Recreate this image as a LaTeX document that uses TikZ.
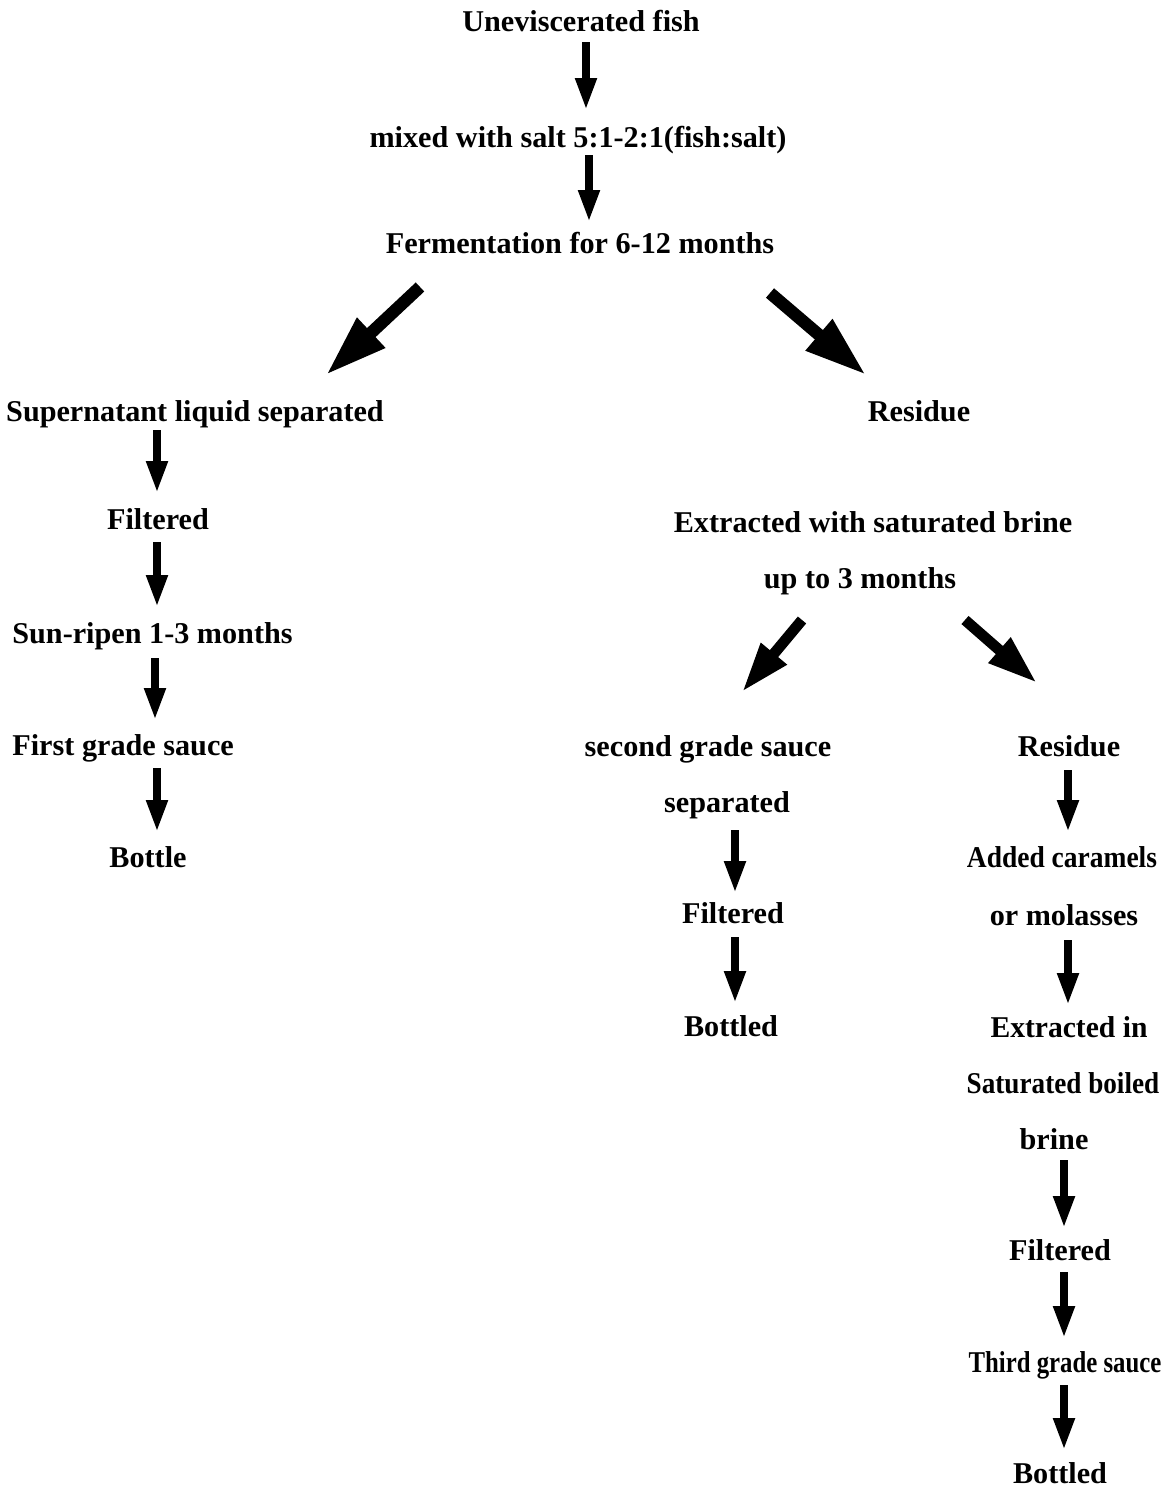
\documentclass[tikz,border=0pt]{standalone}
\usepackage{fontspec}
\usepackage{graphicx}
\setmainfont{Liberation Serif}
\usetikzlibrary{arrows.meta}
\begin{document}
\begin{tikzpicture}[x=0.5pt,y=-0.5pt,
  lbl/.style={anchor=base,inner sep=0pt,font=\fontsize{15.1}{18}\selectfont\bfseries},
  vflow/.style={line width=3.8pt,-{Triangle[width=10pt,length=16pt]}},
  dflowbig/.style={line width=6.2pt,-{Triangle[width=19pt,length=31pt]}},
  dflow/.style={line width=5.4pt,-{Triangle[width=15.5pt,length=25pt]}}]
\useasboundingbox (0,0) rectangle (1173,1488);
% texts (x = centre, y = baseline)
\node[lbl] (t1) at (581,32) {Uneviscerated fish};
\node[lbl] (t2) at (578,147) {mixed with salt 5:1-2:1(fish:salt)};
\node[lbl] (t3) at (580,253) {Fermentation for 6-12 months};
\node[lbl] (t4) at (195,421) {Supernatant liquid separated};
\node[lbl] (t5) at (919,421) {Residue};
\node[lbl] (t6) at (158,529) {Filtered};
\node[lbl,anchor=base west] (t7) at (12,643) {Sun-ripen 1-3 months};
\node[lbl,anchor=base west] (t8) at (12,755) {First grade sauce};
\node[lbl] (t9) at (148,867) {Bottle};
\node[lbl] (t10) at (873,532) {Extracted with saturated brine};
\node[lbl] (t11) at (860,588) {up to 3 months};
\node[lbl] (t12) at (708,756) {second grade sauce};
\node[lbl] (t13) at (1069,756) {Residue};
\node[lbl] (t14) at (727,812) {separated};
\node[lbl] (t15) at (733,923) {Filtered};
\node[lbl] (t16) at (731,1036) {Bottled};
\node[lbl] (t17) at (1062,867) {\scalebox{0.91}[1]{Added caramels}};
\node[lbl] (t18) at (1064,925) {or molasses};
\node[lbl] (t19) at (1069,1037) {\scalebox{0.98}[1]{Extracted in}};
\node[lbl] (t20) at (1063,1093) {\scalebox{0.9}[1]{Saturated boiled}};
\node[lbl] (t21) at (1054,1149) {brine};
\node[lbl] (t22) at (1060,1260) {Filtered};
\node[lbl] (t23) at (1065,1372) {\scalebox{0.82}[1]{Third grade sauce}};
\node[lbl] (t24) at (1060,1483) {Bottled};
% arrow end points
\coordinate (a1s) at (586,42);   \coordinate (a1e) at (586,110);
\coordinate (a2s) at (589,155);  \coordinate (a2e) at (589,222);
\coordinate (d1s) at (420,287);  \coordinate (d1e) at (326,375);
\coordinate (d2s) at (770,293);  \coordinate (d2e) at (866,375);
\coordinate (l1s) at (157,430);  \coordinate (l1e) at (157,493);
\coordinate (l2s) at (157,542);  \coordinate (l2e) at (157,607);
\coordinate (l3s) at (155,658);  \coordinate (l3e) at (155,720);
\coordinate (l4s) at (157,768);  \coordinate (l4e) at (157,832);
\coordinate (d3s) at (802,620);  \coordinate (d3e) at (742,692);
\coordinate (d4s) at (965,620);  \coordinate (d4e) at (1037,683);
\coordinate (m1s) at (735,830);  \coordinate (m1e) at (735,893);
\coordinate (m2s) at (735,937);  \coordinate (m2e) at (735,1003);
\coordinate (r1s) at (1068,770); \coordinate (r1e) at (1068,832);
\coordinate (r2s) at (1068,940); \coordinate (r2e) at (1068,1005);
\coordinate (r3s) at (1064,1160);\coordinate (r3e) at (1064,1228);
\coordinate (r4s) at (1064,1272);\coordinate (r4e) at (1064,1338);
\coordinate (r5s) at (1064,1385);\coordinate (r5e) at (1064,1450);
% arrows
\draw[vflow] (a1s) -- (a1e);
\draw[vflow] (a2s) -- (a2e);
\draw[dflowbig] (d1s) -- (d1e);
\draw[dflowbig] (d2s) -- (d2e);
\draw[vflow] (l1s) -- (l1e);
\draw[vflow] (l2s) -- (l2e);
\draw[vflow] (l3s) -- (l3e);
\draw[vflow] (l4s) -- (l4e);
\draw[dflow] (d3s) -- (d3e);
\draw[dflow] (d4s) -- (d4e);
\draw[vflow] (m1s) -- (m1e);
\draw[vflow] (m2s) -- (m2e);
\draw[vflow] (r1s) -- (r1e);
\draw[vflow] (r2s) -- (r2e);
\draw[vflow] (r3s) -- (r3e);
\draw[vflow] (r4s) -- (r4e);
\draw[vflow] (r5s) -- (r5e);
\end{tikzpicture}
\end{document}
